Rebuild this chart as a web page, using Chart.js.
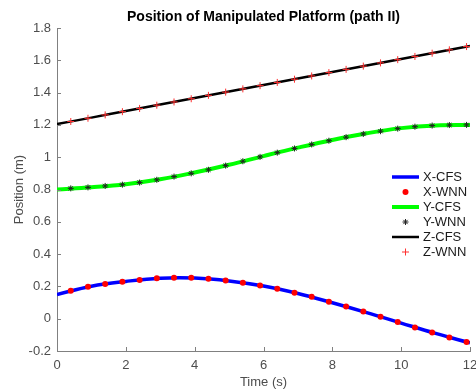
<!DOCTYPE html>
<html lang="en">
<head>
<meta charset="UTF-8" />
<title>Position of Manipulated Platform (path II)</title>
<script src="https://cdn.jsdelivr.net/npm/chart.js"></script>
<style>
    html, body { margin: 0; padding: 0; background: #fff; }
    #wrap { width: 476px; height: 390px; }
</style>
</head>
<body>
<div id="wrap"><canvas id="posChart" width="476" height="390"></canvas></div>
<script>
    // CFS curves
    const cfsTime = [0, 1, 2, 3, 4, 5, 6, 7, 8, 9, 10, 11, 12];
    const xCfs = [0.150, 0.201, 0.231, 0.251, 0.252, 0.234, 0.202, 0.156, 0.099, 0.038, -0.027, -0.091, -0.150];
    const yCfs = [0.800, 0.814, 0.833, 0.863, 0.905, 0.953, 1.007, 1.059, 1.107, 1.148, 1.180, 1.197, 1.200];
    const zCfs = [1.205, 1.245, 1.286, 1.326, 1.366, 1.407, 1.447, 1.487, 1.527, 1.568, 1.608, 1.648, 1.689];

    // WNN samples (markers)
    const wnnTime = [0.4, 0.9, 1.4, 1.9, 2.4, 2.9, 3.4, 3.9, 4.4, 4.9, 5.4, 5.9,
                     6.4, 6.9, 7.4, 7.9, 8.4, 8.9, 9.4, 9.9, 10.4, 10.9, 11.4, 11.9];
    const xWnn = [0.173, 0.198, 0.215, 0.229, 0.240, 0.250, 0.254, 0.253, 0.247, 0.236, 0.223, 0.206,
                  0.186, 0.161, 0.136, 0.105, 0.075, 0.044, 0.012, -0.021, -0.054, -0.085, -0.116, -0.144];
    const yWnn = [0.807, 0.813, 0.822, 0.830, 0.843, 0.860, 0.880, 0.900, 0.922, 0.948, 0.975, 1.002,
                  1.028, 1.054, 1.079, 1.102, 1.124, 1.144, 1.161, 1.177, 1.189, 1.196, 1.199, 1.200];
    const zWnn = [1.221, 1.241, 1.262, 1.282, 1.302, 1.322, 1.342, 1.362, 1.383, 1.403, 1.423, 1.443,
                  1.463, 1.483, 1.503, 1.524, 1.544, 1.564, 1.584, 1.604, 1.624, 1.644, 1.665, 1.685];

    const xTicks = [0, 2, 4, 6, 8, 10, 12];
    const xTickLabels = ['0', '2', '4', '6', '8', '10', '12'];
    const yTicks = [-0.2, 0, 0.2, 0.4, 0.6, 0.8, 1, 1.2, 1.4, 1.6, 1.8];
    const yTickLabels = ['-0.2', '0', '0.2', '0.4', '0.6', '0.8', '1', '1.2', '1.4', '1.6', '1.8'];

    const pts = (ts, vs) => ts.map((t, i) => ({ x: t, y: vs[i] }));

    Chart.defaults.font.family = "'Liberation Sans', Arial, sans-serif";
    Chart.defaults.font.size = 13;
    Chart.defaults.color = '#4d4d4d';

    const AXIS = '#808080';

    // matlab style ticks pointing into the plot
    const innerTicks = {
        id: 'innerTicks',
        afterDraw(chart) {
            const { ctx, chartArea: a, scales } = chart;
            ctx.save();
            ctx.strokeStyle = AXIS;
            ctx.lineWidth = 1;
            ctx.beginPath();
            xTicks.forEach(v => {
                const px = Math.round(scales.x.getPixelForValue(v)) + 0.5;
                ctx.moveTo(px, a.bottom);
                ctx.lineTo(px, a.bottom - 4);
            });
            yTicks.forEach(v => {
                const py = Math.round(scales.y.getPixelForValue(v)) + 0.5;
                ctx.moveTo(a.left, py);
                ctx.lineTo(a.left + 4, py);
            });
            ctx.stroke();
            ctx.restore();
        }
    };

    function drawMarker(ctx, ds, x, y) {
        const r = ds.pointRadius;
        ctx.save();
        ctx.strokeStyle = ds.pointBorderColor;
        ctx.fillStyle = ds.pointBackgroundColor;
        ctx.lineWidth = ds.pointBorderWidth;
        ctx.beginPath();
        if (ds.pointStyle === 'circle') {
            ctx.arc(x, y, r, 0, Math.PI * 2);
            ctx.fill();
        } else if (ds.pointStyle === 'cross') {
            ctx.moveTo(x - r, y); ctx.lineTo(x + r, y);
            ctx.moveTo(x, y - r); ctx.lineTo(x, y + r);
            ctx.stroke();
        } else {
            for (let k = 0; k < 4; k++) {
                const ang = k * Math.PI / 4;
                ctx.moveTo(x - r * Math.cos(ang), y - r * Math.sin(ang));
                ctx.lineTo(x + r * Math.cos(ang), y + r * Math.sin(ang));
            }
            ctx.stroke();
        }
        ctx.restore();
    }

    // legend inside the axes, no box
    const sideLegend = {
        id: 'sideLegend',
        afterDraw(chart) {
            const ctx = chart.ctx;
            const x0 = 392, x1 = 419, textX = 423;
            let y = 177;
            ctx.save();
            ctx.font = "13px 'Liberation Sans', Arial, sans-serif";
            ctx.textBaseline = 'middle';
            ctx.textAlign = 'left';
            chart.data.datasets.forEach(ds => {
                if (ds.showLine) {
                    ctx.strokeStyle = ds.borderColor;
                    ctx.lineWidth = ds.borderWidth;
                    ctx.beginPath();
                    ctx.moveTo(x0, y);
                    ctx.lineTo(x1, y);
                    ctx.stroke();
                } else {
                    drawMarker(ctx, ds, (x0 + x1) / 2, y);
                }
                ctx.fillStyle = '#1a1a1a';
                ctx.fillText(ds.label, textX, y + 0.5);
                y += 15;
            });
            ctx.restore();
        }
    };

    const lineSet = (label, t, v, color, w) => ({
        label, data: pts(t, v), showLine: true, borderColor: color, borderWidth: w,
        pointRadius: 0, pointHoverRadius: 0, tension: 0.4, fill: false, order: 2
    });
    const markSet = (label, t, v, style, r, stroke, fillC, bw) => ({
        label, data: pts(t, v), showLine: false, pointStyle: style, pointRadius: r,
        pointBorderColor: stroke, pointBackgroundColor: fillC, pointBorderWidth: bw,
        borderColor: stroke, backgroundColor: fillC, order: 1
    });

    new Chart(document.getElementById('posChart'), {
        type: 'scatter',
        data: {
            datasets: [
                lineSet('X-CFS', cfsTime, xCfs, '#0000ff', 3.5),
                markSet('X-WNN', wnnTime, xWnn, 'circle', 3, '#ff0000', '#ff0000', 0),
                lineSet('Y-CFS', cfsTime, yCfs, '#00ff00', 4),
                markSet('Y-WNN', wnnTime, yWnn, 'star', 3, '#222222', '#222222', 1),
                lineSet('Z-CFS', cfsTime, zCfs, '#000000', 2.5),
                markSet('Z-WNN', wnnTime, zWnn, 'cross', 3.5, '#ff3030', '#ff3030', 1)
            ]
        },
        options: {
            responsive: false,
            animation: false,
            layout: { padding: { left: 2, right: 6, top: 0, bottom: 0 } },
            plugins: {
                legend: { display: false },
                tooltip: { enabled: false },
                title: {
                    display: true,
                    fullSize: false,
                    text: 'Position of Manipulated Platform (path II)',
                    color: '#000',
                    font: { size: 14, weight: 'bold' },
                    padding: { top: 9, bottom: 2.2 }
                }
            },
            scales: {
                x: {
                    type: 'linear',
                    min: 0, max: 12,
                    afterBuildTicks: s => { s.ticks = xTicks.map(v => ({ value: v })); },
                    afterFit: s => { s.height = 39; s.paddingLeft = 0; s.paddingRight = 0; },
                    grid: { display: true, drawOnChartArea: false, drawTicks: false },
                    border: { display: true, color: AXIS, width: 1 },
                    ticks: {
                        padding: 7,
                        maxRotation: 0,
                        autoSkip: false,
                        callback: v => xTickLabels[xTicks.indexOf(v)]
                    },
                    title: { display: true, text: 'Time (s)', color: '#4d4d4d', padding: { top: 0, bottom: 0 } }
                },
                y: {
                    type: 'linear',
                    min: -0.2, max: 1.8,
                    afterBuildTicks: s => { s.ticks = yTicks.map(v => ({ value: v })); },
                    afterFit: s => { s.width = 55; s.paddingTop = 0; s.paddingBottom = 0; },
                    grid: { display: true, drawOnChartArea: false, drawTicks: false },
                    border: { display: true, color: AXIS, width: 1 },
                    ticks: {
                        padding: 6,
                        autoSkip: false,
                        callback: v => {
                            const i = yTicks.findIndex(t => Math.abs(t - v) < 1e-9);
                            return i >= 0 ? yTickLabels[i] : '';
                        }
                    },
                    title: { display: true, text: 'Position (m)', color: '#4d4d4d', padding: { top: 10, bottom: 0 } }
                }
            }
        },
        plugins: [innerTicks, sideLegend]
    });
</script>
</body>
</html>
